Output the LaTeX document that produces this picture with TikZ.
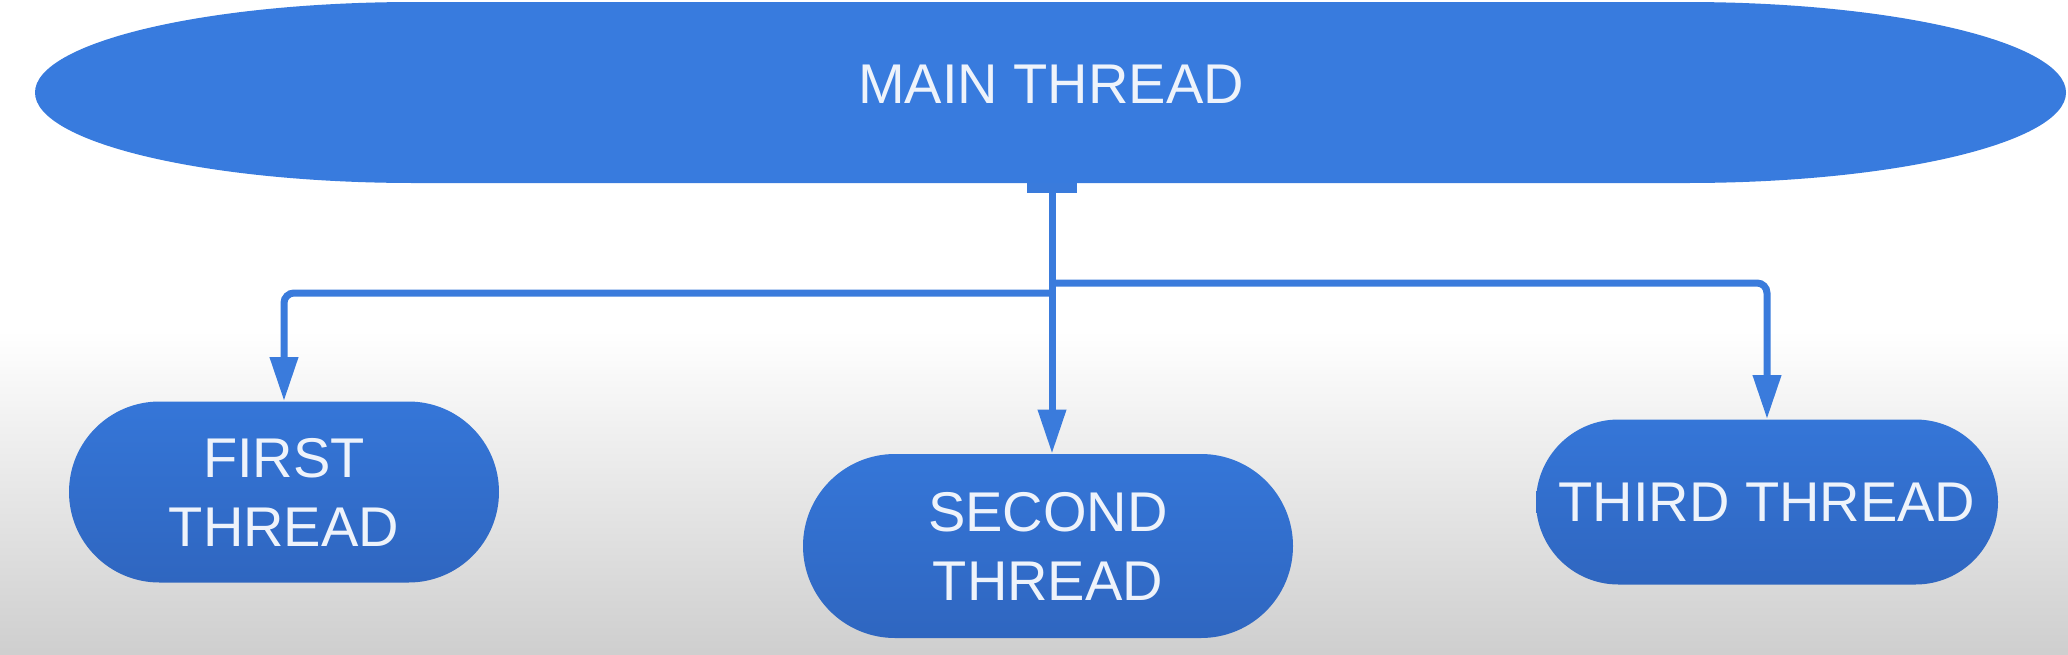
\documentclass[tikz,border=0pt]{standalone}
\usepackage{fontspec}
\setmainfont{Liberation Sans}
\usetikzlibrary{shapes.misc,arrows.meta}
\definecolor{mainblue}{HTML}{387BDE}
\definecolor{linkblue}{HTML}{3A7BDC}
\definecolor{nodetop}{HTML}{3576D8}
\definecolor{nodebot}{HTML}{2F66C0}
\definecolor{txtwhite}{HTML}{EEF3FB}
\tikzset{
  mainnode/.style={rectangle, draw=none, inner sep=0pt,
    minimum width=1015pt, minimum height=90.5pt, text=txtwhite,
    font=\fontsize{28}{34}\selectfont, text depth=8.5pt},
  threadnode/.style={rounded rectangle, draw=none, inner sep=0pt,
    top color=nodetop, bottom color=nodebot, text=txtwhite, align=center,
    font=\fontsize{28}{34.5}\selectfont},
  link/.style={draw=linkblue, line width=3.5pt, rounded corners=5pt},
  tip/.style={-{Triangle[width=13.5pt,length=22pt]}},
}
\begin{document}
\begin{tikzpicture}[x=0.5pt,y=-0.5pt]
  \useasboundingbox (0,0) rectangle (2068,654);
  \fill[white] (0,0) rectangle (2068,654);
  \shade[top color=white, bottom color=black!19] (0,330) rectangle (2068,654);

  % main thread: flattened oval with elliptical ends
  \fill[mainblue] (415,2)
    arc[start angle=270, end angle=90, x radius=380, y radius=90.5]
    -- (1686,183)
    arc[start angle=90, end angle=-90, x radius=380, y radius=90.5]
    -- cycle;
  \node[mainnode] (main) at (1051,92.5) {MAIN THREAD};

  \node[threadnode, minimum width=215pt, minimum height=90.5pt] (first) at (284,492) {FIRST\\THREAD};
  \node[threadnode, minimum width=245pt, minimum height=92pt] (second) at (1048,546) {SECOND\\THREAD};
  \node[threadnode, minimum width=231pt, minimum height=82.5pt] (third) at (1767,502) {THIRD THREAD};

  \coordinate (stem) at (1052,183);
  \coordinate (jl) at (1052,293);
  \coordinate (jr) at (1052,283);

  \fill[linkblue] (1027,183) rectangle (1077,193);
  \draw[link, tip] (stem) -- (stem |- second.north);
  \draw[link, tip] (jl) -| (first.north);
  \draw[link, tip] (jr) -| (third.north);
\end{tikzpicture}
\end{document}
